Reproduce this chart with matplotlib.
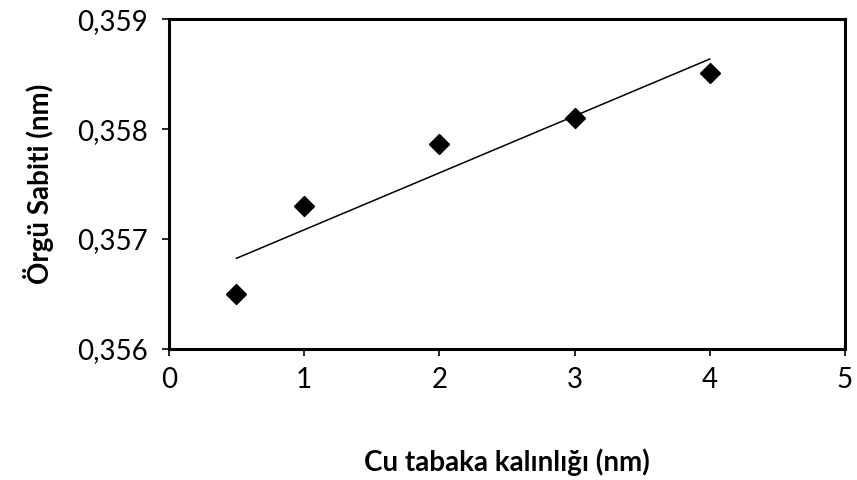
import numpy as np
import matplotlib
matplotlib.use('Agg')
import matplotlib.pyplot as plt
from matplotlib.ticker import FuncFormatter

plt.rcParams['font.family'] = ['Lato', 'DejaVu Sans']

thickness = [0.5, 1, 2, 3, 4]
lattice = [0.356497, 0.357297, 0.357865, 0.358099, 0.358509]
x_ticks = [0, 1, 2, 3, 4, 5]
y_ticks = [0.356, 0.357, 0.358, 0.359]

fig = plt.figure(figsize=(8.57, 4.8), dpi=100)
ax = fig.add_axes([0.197, 0.273, 0.789, 0.687])

# linear trendline like Excel
slope, intercept = np.polyfit(thickness, lattice, 1)
xs = np.array([min(thickness), max(thickness)])
ax.plot(xs, slope * xs + intercept, color='black', linewidth=1.1)
ax.plot(thickness, lattice, linestyle='none', marker='D', markersize=10.5,
        color='black')

ax.set_xlim(0, 5)
ax.set_ylim(0.356, 0.359)
ax.set_xticks(x_ticks)
ax.set_yticks(y_ticks)
ax.yaxis.set_major_formatter(FuncFormatter(lambda v, p: f'{v:.3f}'.replace('.', ',')))

for s in ax.spines.values():
    s.set_linewidth(2.2)
ax.tick_params(direction='out', length=5, width=1.2, labelsize=20, pad=10)
ax.tick_params(axis='x', pad=8)

ax.set_xlabel('Cu tabaka kalınlığı (nm)', fontsize=20, fontweight='bold', labelpad=40)
ax.set_ylabel('Örgü Sabiti (nm)', fontsize=20, fontweight='bold', labelpad=17)

fig.savefig('out.png', dpi=100)
